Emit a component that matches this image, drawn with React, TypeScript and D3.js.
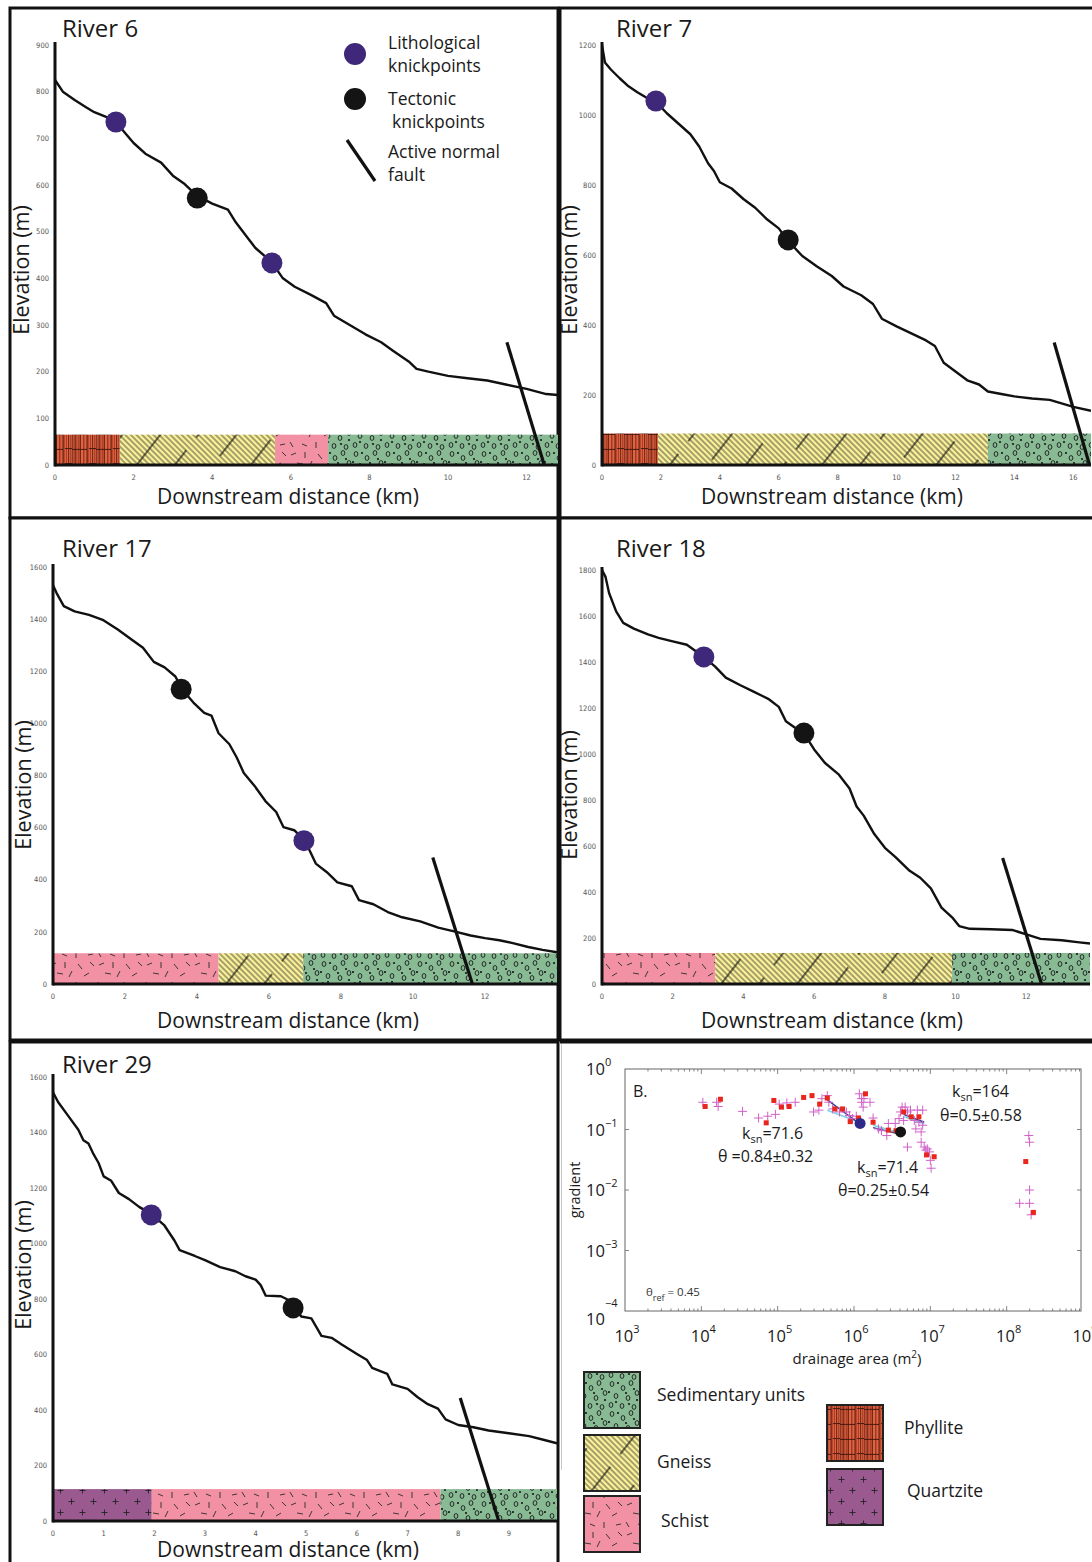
import React from 'react';
import * as d3 from 'd3';

type Pt = [number, number];
type Knick = { type: 'lith' | 'tect'; km: number; elev: number };
type Litho = { unit: string; from: number; to: number };

// ---------------- DATA ----------------
const river6Profile: Pt[] = [
  [0, 825], [0.2, 800], [0.5, 782], [0.8, 766], [1.0, 756], [1.3, 746], [1.55, 735], [1.8, 710],
  [2.0, 690], [2.3, 667], [2.7, 648], [3.0, 620], [3.3, 602], [3.6, 578], [4.0, 560], [4.4, 547],
  [4.6, 520], [4.9, 487], [5.1, 465], [5.5, 436], [5.8, 400], [6.1, 382], [6.5, 365], [6.9, 347],
  [7.1, 320], [7.5, 300], [7.9, 280], [8.3, 263], [8.6, 245], [9.0, 222], [9.2, 206], [9.5, 200],
  [10.0, 191], [10.5, 186], [11.0, 181], [11.5, 172], [12.0, 163], [12.5, 152], [12.8, 150]
];
const river7Profile: Pt[] = [
  [0, 1200], [0.1, 1150], [0.3, 1130], [0.6, 1105], [0.9, 1082], [1.2, 1065], [1.5, 1050], [1.85, 1036],
  [2.2, 1005], [2.6, 975], [3.0, 945], [3.3, 910], [3.6, 862], [3.8, 840], [4.0, 808], [4.4, 790],
  [4.8, 760], [5.2, 735], [5.6, 702], [6.0, 676], [6.3, 642], [6.8, 597], [7.3, 567], [7.8, 540],
  [8.2, 510], [8.8, 485], [9.2, 460], [9.5, 418], [10.0, 396], [10.5, 376], [11.0, 356], [11.3, 340],
  [11.6, 292], [12.0, 267], [12.4, 242], [12.8, 230], [13.1, 210], [13.6, 202], [14.0, 196], [14.6, 190],
  [15.2, 186], [15.6, 176], [16.0, 166], [16.6, 155]
];
const river17Profile: Pt[] = [
  [0, 1530], [0.1, 1500], [0.3, 1450], [0.6, 1430], [1.0, 1416], [1.4, 1396], [1.8, 1360], [2.2, 1320],
  [2.5, 1290], [2.8, 1236], [3.1, 1215], [3.4, 1180], [3.6, 1128], [3.9, 1080], [4.2, 1040], [4.4, 1030],
  [4.6, 962], [4.9, 920], [5.1, 870], [5.3, 810], [5.6, 760], [5.9, 702], [6.2, 660], [6.4, 602],
  [6.7, 590], [7.0, 550], [7.3, 462], [7.6, 430], [7.9, 390], [8.3, 375], [8.5, 322], [8.9, 306],
  [9.3, 276], [9.7, 256], [10.2, 240], [10.7, 216], [11.2, 200], [11.6, 186], [12.0, 176], [12.4, 168],
  [12.8, 156], [13.2, 142], [13.6, 131], [14.0, 122]
];
const river18Profile: Pt[] = [
  [0, 1800], [0.1, 1770], [0.2, 1700], [0.4, 1620], [0.6, 1570], [0.9, 1545], [1.3, 1520], [1.6, 1505],
  [2.0, 1490], [2.4, 1475], [2.9, 1420], [3.2, 1380], [3.5, 1332], [3.9, 1300], [4.3, 1270], [4.7, 1240],
  [5.0, 1205], [5.2, 1142], [5.5, 1110], [5.7, 1092], [6.0, 1020], [6.3, 962], [6.7, 910], [7.0, 850],
  [7.2, 772], [7.4, 732], [7.7, 652], [8.0, 592], [8.3, 552], [8.7, 492], [9.0, 462], [9.3, 416],
  [9.6, 332], [9.9, 290], [10.1, 252], [10.4, 240], [11.0, 238], [11.6, 235], [12.0, 216], [12.4, 196],
  [13.0, 190], [13.5, 181], [13.8, 176]
];
const river29Profile: Pt[] = [
  [0, 1545], [0.1, 1510], [0.3, 1460], [0.5, 1410], [0.6, 1372], [0.7, 1360], [0.8, 1322], [0.9, 1290],
  [1.0, 1242], [1.15, 1226], [1.3, 1182], [1.5, 1160], [1.7, 1132], [1.95, 1105], [2.2, 1065], [2.4, 1010],
  [2.5, 976], [2.8, 955], [3.0, 940], [3.3, 915], [3.6, 900], [3.8, 882], [4.0, 870], [4.1, 850],
  [4.2, 812], [4.5, 810], [4.7, 792], [4.9, 737], [5.1, 730], [5.3, 667], [5.5, 660], [5.7, 636],
  [6.0, 602], [6.2, 580], [6.3, 552], [6.6, 530], [6.7, 492], [7.0, 476], [7.2, 446], [7.4, 421],
  [7.6, 405], [7.75, 366], [8.0, 346], [8.3, 338], [8.6, 326], [9.0, 316], [9.4, 306], [9.7, 292],
  [9.95, 280]
];

const river6Knicks: Knick[] = [
  { type: 'lith', km: 1.55, elev: 735 }, { type: 'tect', km: 3.62, elev: 572 }, { type: 'lith', km: 5.52, elev: 433 }
];
const river7Knicks: Knick[] = [{ type: 'lith', km: 1.83, elev: 1040 }, { type: 'tect', km: 6.32, elev: 643 }];
const river17Knicks: Knick[] = [{ type: 'tect', km: 3.56, elev: 1131 }, { type: 'lith', km: 6.97, elev: 550 }];
const river18Knicks: Knick[] = [{ type: 'lith', km: 2.88, elev: 1422 }, { type: 'tect', km: 5.71, elev: 1091 }];
const river29Knicks: Knick[] = [{ type: 'lith', km: 1.94, elev: 1103 }, { type: 'tect', km: 4.74, elev: 768 }];

const river6Litho: Litho[] = [
  { unit: 'phyllite', from: 0, to: 1.65 }, { unit: 'gneiss', from: 1.65, to: 5.6 },
  { unit: 'schist', from: 5.6, to: 6.95 }, { unit: 'sediment', from: 6.95, to: 12.8 }
];
const river7Litho: Litho[] = [
  { unit: 'phyllite', from: 0, to: 1.9 }, { unit: 'gneiss', from: 1.9, to: 13.1 }, { unit: 'sediment', from: 13.1, to: 16.6 }
];
const river17Litho: Litho[] = [
  { unit: 'schist', from: 0, to: 4.6 }, { unit: 'gneiss', from: 4.6, to: 6.95 }, { unit: 'sediment', from: 6.95, to: 14.0 }
];
const river18Litho: Litho[] = [
  { unit: 'schist', from: 0, to: 3.2 }, { unit: 'gneiss', from: 3.2, to: 9.9 }, { unit: 'sediment', from: 9.9, to: 13.8 }
];
const river29Litho: Litho[] = [
  { unit: 'quartzite', from: 0, to: 1.95 }, { unit: 'schist', from: 1.95, to: 7.65 }, { unit: 'sediment', from: 7.65, to: 9.95 }
];

const river6Fault: Pt[] = [[11.5, 263], [12.45, 0]];
const river7Fault: Pt[] = [[15.35, 350], [16.55, 0]];
const river17Fault: Pt[] = [[10.55, 485], [11.65, 0]];
const river18Fault: Pt[] = [[11.33, 548], [12.43, 0]];
const river29Fault: Pt[] = [[8.04, 443], [8.8, 0]];

const river6YTicks = [0, 100, 200, 300, 400, 500, 600, 700, 800, 900];
const river6XTicks = [0, 2, 4, 6, 8, 10, 12];
const river7YTicks = [0, 200, 400, 600, 800, 1000, 1200];
const river7XTicks = [0, 2, 4, 6, 8, 10, 12, 14, 16];
const river17YTicks = [0, 200, 400, 600, 800, 1000, 1200, 1400, 1600];
const river17XTicks = [0, 2, 4, 6, 8, 10, 12];
const river18YTicks = [0, 200, 400, 600, 800, 1000, 1200, 1400, 1600, 1800];
const river18XTicks = [0, 2, 4, 6, 8, 10, 12];
const river29YTicks = [0, 200, 400, 600, 800, 1000, 1200, 1400, 1600];
const river29XTicks = [0, 1, 2, 3, 4, 5, 6, 7, 8, 9];

// Slope-area plot (log10 drainage area m^2, log10 gradient)
const redSquares: Pt[] = [
  [4.05, -0.62], [4.25, -0.50], [4.85, -0.89], [4.95, -0.52], [5.05, -0.63], [5.15, -0.62], [5.34, -0.47],
  [5.45, -0.44], [5.55, -0.58], [5.65, -0.48], [5.75, -0.66], [5.85, -0.66], [5.95, -0.87], [6.06, -0.81],
  [6.15, -0.41], [6.25, -0.88], [6.45, -1.01], [6.55, -1.02], [6.65, -0.71], [6.75, -0.79], [6.85, -0.79],
  [6.95, -1.42], [7.05, -1.45], [8.25, -1.53], [8.35, -2.37]
];
const plusPoints: Pt[] = [
  [4.02, -0.55], [4.20, -0.55], [4.22, -0.62], [4.54, -0.70], [4.75, -0.81], [4.87, -0.78], [4.97, -0.75],
  [5.02, -0.58], [5.12, -0.56], [5.23, -0.55], [5.47, -0.71], [5.54, -0.68], [5.58, -0.49], [5.65, -0.44],
  [5.67, -0.55], [5.72, -0.66], [5.81, -0.71], [5.90, -0.71], [5.94, -0.77], [5.98, -0.82], [6.03, -0.78],
  [6.07, -0.41], [6.10, -0.49], [6.10, -0.55], [6.12, -0.63], [6.13, -0.49], [6.21, -0.55], [6.25, -0.81],
  [6.32, -0.99], [6.36, -1.02], [6.43, -1.10], [6.45, -0.90], [6.54, -0.90], [6.59, -0.82], [6.61, -0.71],
  [6.63, -0.63], [6.65, -0.85], [6.67, -0.63], [6.70, -0.71], [6.70, -1.29], [6.74, -0.68], [6.79, -0.85],
  [6.81, -0.99], [6.83, -0.68], [6.85, -0.88], [6.88, -1.04], [6.88, -1.21], [6.90, -0.68], [6.90, -0.93],
  [6.92, -1.29], [6.94, -1.34], [6.96, -1.32], [6.99, -1.37], [7.00, -1.51], [7.01, -1.64], [8.17, -2.22],
  [8.29, -1.10], [8.30, -1.21], [8.30, -2.00], [8.30, -2.22], [8.32, -2.41]
];
const regDark: Pt[][] = [
  [[5.65, -0.51], [6.07, -0.90]], [[6.25, -0.97], [6.61, -1.08]], [[6.65, -0.75], [6.92, -0.88]]
];
const regCyan: Pt[][] = [
  [[5.65, -0.68], [6.07, -0.88]], [[6.25, -0.93], [6.61, -1.06]], [[6.66, -0.79], [6.92, -0.91]]
];
const slopeKnicks: Knick[] = [{ type: 'lith', km: 6.08, elev: -0.9 }, { type: 'tect', km: 6.61, elev: -1.04 }];
const areaExponents = [3, 4, 5, 6, 7, 8, 9];
const gradientExponents = [0, -1, -2, -3, -4];

const legendUnits = [
  { unit: 'sediment', label: 'Sedimentary units' },
  { unit: 'gneiss', label: 'Gneiss' },
  { unit: 'schist', label: 'Schist' },
  { unit: 'phyllite', label: 'Phyllite' },
  { unit: 'quartzite', label: 'Quartzite' }
];

// ---------------- STYLE / LAYOUT ----------------
const FONT = "'Open Sans', 'Noto Sans', 'DejaVu Sans', sans-serif";
const TICKFONT = "'DejaVu Sans Condensed', 'Liberation Sans Narrow', sans-serif";
const PURPLE = '#3f2879';
const KNICK_BLACK = '#141414';

const panels = [
  {
    title: 'River 6', profile: river6Profile, knicks: river6Knicks, litho: river6Litho, fault: river6Fault,
    yTicks: river6YTicks, xTicks: river6XTicks, xMax: 12.8, yMax: 900, lithoTop: 65,
    frame: { x: 10, y: 8, w: 548, h: 510 }, px: [55, 558], py: [465, 45],
    elevTitle: [22, 270], distTitle: [288, 504], titlePos: [62, 37]
  },
  {
    title: 'River 7', profile: river7Profile, knicks: river7Knicks, litho: river7Litho, fault: river7Fault,
    yTicks: river7YTicks, xTicks: river7XTicks, xMax: 16.6, yMax: 1200, lithoTop: 90,
    frame: { x: 560, y: 8, w: 560, h: 510 }, px: [602, 1091], py: [465, 45],
    elevTitle: [570, 270], distTitle: [832, 504], titlePos: [616, 37]
  },
  {
    title: 'River 17', profile: river17Profile, knicks: river17Knicks, litho: river17Litho, fault: river17Fault,
    yTicks: river17YTicks, xTicks: river17XTicks, xMax: 14.0, yMax: 1600, lithoTop: 118,
    frame: { x: 10, y: 518, w: 548, h: 522 }, px: [53, 557], py: [984, 567],
    elevTitle: [24, 785], distTitle: [288, 1028], titlePos: [62, 557]
  },
  {
    title: 'River 18', profile: river18Profile, knicks: river18Knicks, litho: river18Litho, fault: river18Fault,
    yTicks: river18YTicks, xTicks: river18XTicks, xMax: 13.8, yMax: 1800, lithoTop: 135,
    frame: { x: 560, y: 518, w: 560, h: 522 }, px: [602, 1090], py: [984, 570],
    elevTitle: [570, 795], distTitle: [832, 1028], titlePos: [616, 557]
  },
  {
    title: 'River 29', profile: river29Profile, knicks: river29Knicks, litho: river29Litho, fault: river29Fault,
    yTicks: river29YTicks, xTicks: river29XTicks, xMax: 9.95, yMax: 1600, lithoTop: 115,
    frame: { x: 10, y: 1042, w: 548, h: 540 }, px: [53, 557], py: [1521, 1077],
    elevTitle: [24, 1265], distTitle: [288, 1557], titlePos: [62, 1073]
  }
];

const legendLayout: Record<string, { x: number; y: number; tx: number; ty: number }> = {
  sediment: { x: 584, y: 1372, tx: 657, ty: 1401 },
  gneiss: { x: 584, y: 1435, tx: 657, ty: 1468 },
  schist: { x: 584, y: 1496, tx: 661, ty: 1527 },
  phyllite: { x: 827, y: 1405, tx: 904, ty: 1434 },
  quartzite: { x: 827, y: 1469, tx: 907, ty: 1497 }
};

function Patterns() {
  const phylStripes: [number, number][] = [
    [0.8, 1], [2.6, 0.5], [3.8, 1.1], [6.2, 0.7], [8.3, 1.3], [11.8, 0.9], [14.4, 0.6], [15.8, 1.2],
    [18.4, 0.6], [20.6, 1.0], [22.8, 0.7]
  ];
  const schistDashes: [number, number, number, number][] = [
    [3, 5, 8, 3], [17, 2, 17, 8], [30, 4, 34, 9], [42, 2, 46, 6], [9, 13, 15, 14], [24, 11, 21, 17],
    [36, 16, 41, 13], [2, 22, 5, 27], [14, 24, 19, 26], [28, 22, 28, 28], [40, 25, 45, 24]
  ];
  const sedCircles: Pt[] = [[4, 4], [15, 8], [23, 3], [8, 16], [20, 18], [3, 25], [14, 26], [26, 27], [29, 13]];
  const sedDots: Pt[] = [[10, 3], [18, 13], [1, 12], [26, 9], [8, 22], [21, 24], [29, 20]];
  return (
    <defs>
      <pattern id="pat-phyllite" patternUnits="userSpaceOnUse" width={24} height={15}>
        <rect width={24} height={15} fill="#e5623e" />
        {phylStripes.map(([x, w], i) => (
          <line key={i} x1={x} x2={x} y1={0} y2={15} stroke="#4a140c" strokeWidth={w} strokeOpacity={0.8} />
        ))}
        <line x1={0} x2={15} y1={14.4} y2={14.4} stroke="#3a100a" strokeWidth={0.9} />
        <line x1={17} x2={24} y1={13.6} y2={13.6} stroke="#3a100a" strokeWidth={0.9} />
      </pattern>
      <pattern id="pat-gneiss-base" patternUnits="userSpaceOnUse" width={4} height={4} patternTransform="rotate(-45)">
        <rect width={4} height={4} fill="#fbf29a" />
        <line x1={1} x2={1} y1={0} y2={4} stroke="#222" strokeWidth={0.8} />
      </pattern>
      <pattern id="pat-gneiss-cross" patternUnits="userSpaceOnUse" width={30} height={60} patternTransform="rotate(38)">
        <line x1={4} x2={4} y1={0} y2={44} stroke="#111" strokeWidth={1.2} />
      </pattern>
      <pattern id="pat-schist" patternUnits="userSpaceOnUse" width={48} height={30}>
        <rect width={48} height={30} fill="#f291a3" />
        {schistDashes.map(([a, b, c, d], i) => (
          <line key={i} x1={a} y1={b} x2={c} y2={d} stroke="#2a2a2a" strokeWidth={0.9} />
        ))}
      </pattern>
      <pattern id="pat-sediment" patternUnits="userSpaceOnUse" width={32} height={30}>
        <rect width={32} height={30} fill="#88ba94" />
        {sedCircles.map(([x, y], i) => (
          <ellipse key={i} cx={x} cy={y} rx={1.9} ry={2.4} fill="none" stroke="#1a1a1a" strokeWidth={0.9} />
        ))}
        {sedDots.map(([x, y], i) => (
          <circle key={i} cx={x} cy={y} r={1.1} fill="#1a1a1a" />
        ))}
      </pattern>
      <pattern id="pat-quartzite" patternUnits="userSpaceOnUse" width={22} height={22}>
        <rect width={22} height={22} fill="#9a5a90" />
        {[[5.5, 5.5], [16.5, 16.5]].map(([x, y], i) => (
          <g key={i} stroke="#222" strokeWidth={0.9}>
            <line x1={x - 3} x2={x + 3} y1={y} y2={y} />
            <line x1={x} x2={x} y1={y - 3} y2={y + 3} />
          </g>
        ))}
      </pattern>
    </defs>
  );
}

function UnitRect({ unit, x, y, w, h }: { unit: string; x: number; y: number; w: number; h: number }) {
  if (unit === 'gneiss') {
    return (
      <g>
        <rect x={x} y={y} width={w} height={h} fill="url(#pat-gneiss-base)" />
        <rect x={x} y={y} width={w} height={h} fill="url(#pat-gneiss-cross)" />
      </g>
    );
  }
  return <rect x={x} y={y} width={w} height={h} fill={`url(#pat-${unit})`} />;
}

function RiverPanel({ p }: { p: typeof panels[number] }) {
  const xs = d3.scaleLinear().domain([0, p.xMax]).range(p.px);
  const ys = d3.scaleLinear().domain([0, p.yMax]).range(p.py);
  const line = d3.line<Pt>().x(d => xs(d[0])).y(d => ys(d[1]));
  const clipId = `clip-${p.title.replace(' ', '')}`;
  return (
    <g>
      <defs>
        <clipPath id={clipId}>
          <rect x={p.px[0]} y={p.frame.y} width={p.px[1] - p.px[0]} height={ys(0) - p.frame.y + 2} />
        </clipPath>
      </defs>
      <rect x={p.frame.x} y={p.frame.y} width={p.frame.w} height={p.frame.h} fill="#fff" stroke="#111" strokeWidth={3} />
      <text x={p.titlePos[0]} y={p.titlePos[1]} fontFamily={FONT} fontSize={24} fill="#1a1a1a">{p.title}</text>
      {p.litho.map((l, i) => (
        <UnitRect key={i} unit={l.unit} x={xs(l.from)} y={ys(p.lithoTop)} w={xs(l.to) - xs(l.from)} h={ys(0) - ys(p.lithoTop)} />
      ))}
      <line x1={p.px[0]} x2={p.px[1]} y1={ys(0)} y2={ys(0)} stroke="#111" strokeWidth={3} />
      <line x1={p.px[0]} x2={p.px[0]} y1={ys(0) + 1.5} y2={ys(p.yMax) - 3} stroke="#111" strokeWidth={3} />
      {p.yTicks.map(t => (
        <text key={t} x={p.px[0] - 6} y={ys(t)} dy="0.35em" textAnchor="end" fontFamily={TICKFONT} fontSize={7.5} fill="#555">{t}</text>
      ))}
      {p.xTicks.map(t => (
        <text key={t} x={xs(t)} y={ys(0) + 15} textAnchor="middle" fontFamily={TICKFONT} fontSize={7.5} fill="#555">{t}</text>
      ))}
      <g clipPath={`url(#${clipId})`}>
        <path d={line(p.profile) || ''} fill="none" stroke="#111" strokeWidth={2.4} strokeLinejoin="round" />
        <path d={line(p.fault) || ''} fill="none" stroke="#111" strokeWidth={3.2} />
      </g>
      {p.knicks.map((k, i) => (
        <circle key={i} cx={xs(k.km)} cy={ys(k.elev)} r={10.5} fill={k.type === 'lith' ? PURPLE : KNICK_BLACK} />
      ))}
      <text transform={`translate(${p.elevTitle[0] + 7},${p.elevTitle[1]}) rotate(-90)`} textAnchor="middle" fontFamily={FONT} fontSize={21.5} fill="#1a1a1a">Elevation (m)</text>
      <text x={p.distTitle[0]} y={p.distTitle[1]} textAnchor="middle" fontFamily={FONT} fontSize={21} fill="#1a1a1a">Downstream distance (km)</text>
    </g>
  );
}

function KnickLegend() {
  return (
    <g fontFamily={FONT} fontSize={17.5} fill="#1a1a1a">
      <circle cx={355} cy={54} r={11} fill={PURPLE} />
      <text x={388} y={49}>Lithological</text>
      <text x={388} y={72}>knickpoints</text>
      <circle cx={355} cy={99} r={11} fill={KNICK_BLACK} />
      <text x={388} y={105}>Tectonic</text>
      <text x={392} y={128}>knickpoints</text>
      <line x1={347} y1={140} x2={375} y2={181} stroke="#111" strokeWidth={3.2} />
      <text x={388} y={158}>Active normal</text>
      <text x={388} y={181}>fault</text>
    </g>
  );
}

function SlopeArea() {
  const xs = d3.scaleLog().domain([1e3, 1e9]).range([625, 1083]);
  const ys = d3.scaleLog().domain([1e-4, 1]).range([1311, 1069]);
  const X = (la: number) => xs(Math.pow(10, la));
  const Y = (lg: number) => ys(Math.pow(10, lg));
  const seg = d3.line<Pt>().x(d => X(d[0])).y(d => Y(d[1]));
  const minor: number[] = [];
  for (let k = 3; k < 9; k++) for (let m = 2; m <= 9; m++) minor.push(m * Math.pow(10, k));
  const x0 = 625, x1 = 1081, yTop = 1069, yBot = 1311;
  return (
    <g fontFamily={FONT} fill="#1a1a1a">
      <line x1={560} x2={1092} y1={1042} y2={1042} stroke="#111" strokeWidth={3} />
      <line x1={561.5} x2={561.5} y1={1044} y2={1470} stroke="#c8c8c8" strokeWidth={1} />
      <rect x={x0} y={yTop} width={x1 - x0} height={yBot - yTop} fill="none" stroke="#666" strokeWidth={1} />
      {minor.filter(v => xs(v) < x1).map((v, i) => (
        <g key={i} stroke="#666" strokeWidth={0.8}>
          <line x1={xs(v)} x2={xs(v)} y1={yTop} y2={yTop + 2.5} />
          <line x1={xs(v)} x2={xs(v)} y1={yBot} y2={yBot - 2.5} />
        </g>
      ))}
      {areaExponents.map(e => (
        <g key={e}>
          {e > 3 && e < 9 && (
            <g stroke="#666" strokeWidth={0.8}>
              <line x1={xs(Math.pow(10, e))} x2={xs(Math.pow(10, e))} y1={yTop} y2={yTop + 5} />
              <line x1={xs(Math.pow(10, e))} x2={xs(Math.pow(10, e))} y1={yBot} y2={yBot - 5} />
            </g>
          )}
          <text x={xs(Math.pow(10, e)) + 2} y={1342} textAnchor="middle" fontSize={16.5}>
            10<tspan dy={-9} fontSize={11}>{e}</tspan>
          </text>
        </g>
      ))}
      {gradientExponents.map((e, i) => {
        const last = i === gradientExponents.length - 1;
        const y = ys(Math.pow(10, e));
        return (
          <g key={e}>
            {!last && e !== 0 && (
              <g stroke="#666" strokeWidth={0.8}>
                <line x1={x0} x2={x0 + 4} y1={y} y2={y} />
                <line x1={x1} x2={x1 - 4} y1={y} y2={y} />
              </g>
            )}
            <text x={586} y={last ? y + 14 : y + 6} fontSize={16.5}>
              10<tspan dy={last ? -18 : -9} fontSize={11}>{e === 0 ? '0' : '\u2212' + Math.abs(e)}</tspan>
            </text>
          </g>
        );
      })}
      <text transform="translate(580,1190) rotate(-90)" textAnchor="middle" fontSize={14.5}>gradient</text>
      <text x={857} y={1364} textAnchor="middle" fontSize={15}>
        drainage area (m<tspan dy={-6} fontSize={10}>2</tspan><tspan dy={6}>)</tspan>
      </text>
      <text x={633} y={1097} fontSize={16}>B.</text>
      <text x={646} y={1296} fontSize={11.5} fill="#333">
        θ<tspan dy={5} fontSize={9}>ref</tspan><tspan dy={-5}> = 0.45</tspan>
      </text>
      {regCyan.map((s, i) => (
        <path key={'c' + i} d={seg(s) || ''} stroke="#7fd3e4" strokeWidth={1.6} fill="none" />
      ))}
      {regDark.map((s, i) => (
        <path key={'d' + i} d={seg(s) || ''} stroke="#2b3f8f" strokeWidth={1.4} fill="none" />
      ))}
      {plusPoints.map((d, i) => (
        <g key={'p' + i} stroke="#d060c8" strokeWidth={1}>
          <line x1={X(d[0]) - 4.5} x2={X(d[0]) + 4.5} y1={Y(d[1])} y2={Y(d[1])} />
          <line x1={X(d[0])} x2={X(d[0])} y1={Y(d[1]) - 4.5} y2={Y(d[1]) + 4.5} />
        </g>
      ))}
      {redSquares.map((d, i) => (
        <rect key={'r' + i} x={X(d[0]) - 2.5} y={Y(d[1]) - 2.5} width={5} height={5} fill="#e8261c" />
      ))}
      {slopeKnicks.map((k, i) => (
        <circle key={'k' + i} cx={X(k.km)} cy={Y(k.elev)} r={5.5} fill={k.type === 'lith' ? '#2d2a8a' : KNICK_BLACK} />
      ))}
      <g fontSize={16}>
        <text x={742} y={1139}>k<tspan dy={4} fontSize={11}>sn</tspan><tspan dy={-4}>=71.6</tspan></text>
        <text x={718} y={1162}>θ =0.84±0.32</text>
        <text x={952} y={1097}>k<tspan dy={4} fontSize={11}>sn</tspan><tspan dy={-4}>=164</tspan></text>
        <text x={940} y={1121}>θ=0.5±0.58</text>
        <text x={857} y={1173}>k<tspan dy={4} fontSize={11}>sn</tspan><tspan dy={-4}>=71.4</tspan></text>
        <text x={838} y={1196}>θ=0.25±0.54</text>
      </g>
    </g>
  );
}

function LithoLegend() {
  return (
    <g fontFamily={FONT} fontSize={17.5} fill="#1a1a1a">
      {legendUnits.map(u => {
        const l = legendLayout[u.unit];
        return (
          <g key={u.unit}>
            <UnitRect unit={u.unit} x={l.x} y={l.y} w={56} h={56} />
            <rect x={l.x} y={l.y} width={56} height={56} fill="none" stroke="#222" strokeWidth={2} />
            <text x={l.tx} y={l.ty}>{u.label}</text>
          </g>
        );
      })}
    </g>
  );
}

export default function App() {
  return (
    <svg width={1092} height={1562} style={{ position: 'absolute', left: 0, top: 0, background: '#fff' }}>
      <Patterns />
      <rect width={1092} height={1562} fill="#fff" />
      {panels.map(p => <RiverPanel key={p.title} p={p} />)}
      <KnickLegend />
      <SlopeArea />
      <LithoLegend />
    </svg>
  );
}
